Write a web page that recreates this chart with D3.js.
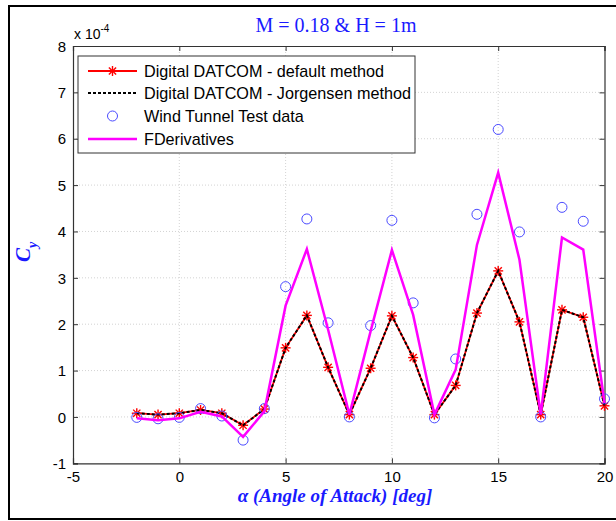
<!DOCTYPE html>
<html><head><meta charset="utf-8">
<script src="https://cdn.jsdelivr.net/npm/d3@7"></script>
<style>html,body{margin:0;padding:0;background:#fff;}svg{display:block;}</style>
</head><body>
<svg id="c" width="616" height="521"></svg>
<script>
const alpha = [-2,-1,0,1,2,3,4,5,6,7,8,9,10,11,12,13,14,15,16,17,18,19,20];
const datcomDefault = [0.08,0.05,0.08,0.15,0.08,-0.18,0.17,1.49,2.19,1.07,0.05,1.05,2.18,1.28,0.05,0.68,2.24,3.15,2.05,0.05,2.31,2.15,0.24];
const datcomJorgensen = [0.08,0.05,0.08,0.15,0.08,-0.18,0.17,1.49,2.19,1.07,0.05,1.05,2.18,1.28,0.05,0.68,2.24,3.15,2.05,0.05,2.31,2.15,0.24];
const windTunnel = [-0.01,-0.04,-0.01,0.18,0.02,-0.5,0.18,2.81,4.27,2.03,0.0,1.97,4.24,2.46,-0.02,1.25,4.37,6.2,3.99,0.0,4.52,4.22,0.39];
const fDerivatives = [-0.03,-0.07,-0.03,0.11,0.01,-0.43,0.12,2.4,3.62,1.88,0.05,1.85,3.6,2.2,0.05,1.02,3.71,5.27,3.39,0.05,3.87,3.61,0.3];
const xTicks = [-5,0,5,10,15,20];
const yTicks = [-1,0,1,2,3,4,5,6,7,8];
const legendLabels = ["Digital DATCOM - default method","Digital DATCOM - Jorgensen method","Wind Tunnel Test data","FDerivatives"];
const titleText = "M = 0.18 & H = 1m";
const xLabelText = "α (Angle of Attack) [deg]";

const svg = d3.select("#c");
const L = 73, R = 604.5, T = 46, B = 463.3;
const x = d3.scaleLinear().domain([-5,20]).range([L,R]);
const y = d3.scaleLinear().domain([-1,8]).range([B,T]);

// outer frame
svg.append("rect").attr("x",9).attr("y",6).attr("width",640).attr("height",513)
  .attr("fill","#fff").attr("stroke","#000").attr("stroke-width",2);

// plot background
svg.append("rect").attr("x",L).attr("y",T).attr("width",R-L).attr("height",B-T).attr("fill","#fff");

// grid
const g = svg.append("g");
g.selectAll(".gx").data(xTicks.slice(1,-1)).join("line")
  .attr("x1",d=>x(d)).attr("x2",d=>x(d)).attr("y1",T).attr("y2",B)
  .attr("stroke","#c8c8c8").attr("stroke-width",0.8).attr("stroke-dasharray","1,2");
g.selectAll(".gy").data(yTicks.slice(1,-1)).join("line")
  .attr("y1",d=>y(d)).attr("y2",d=>y(d)).attr("x1",L).attr("x2",R)
  .attr("stroke","#c8c8c8").attr("stroke-width",0.8).attr("stroke-dasharray","1,2");

// axes
const axFont = "'Liberation Sans', Arial, sans-serif";
const fmt = d => String(d);
const xAxisB = svg.append("g").attr("transform",`translate(0,${B})`)
  .call(d3.axisBottom(x).tickValues(xTicks).tickSize(-5).tickPadding(8).tickFormat(fmt));
const xAxisT = svg.append("g").attr("transform",`translate(0,${T})`)
  .call(d3.axisTop(x).tickValues(xTicks).tickSize(-5).tickFormat(""));
const yAxisL = svg.append("g").attr("transform",`translate(${L},0)`)
  .call(d3.axisLeft(y).tickValues(yTicks).tickSize(-5).tickPadding(7).tickFormat(fmt));
const yAxisR = svg.append("g").attr("transform",`translate(${R},0)`)
  .call(d3.axisRight(y).tickValues(yTicks).tickSize(-5).tickFormat(""));
[xAxisB,xAxisT,yAxisL,yAxisR].forEach(a=>{
  a.select(".domain").attr("stroke","#333").attr("stroke-width",1.2);
  a.selectAll(".tick line").attr("stroke","#333");
  a.selectAll("text").attr("font-family",axFont).attr("font-size",15).attr("fill","#000");
});
yAxisL.selectAll("text").attr("dy","0.35em");

// exponent label
const ex = svg.append("text").attr("x",74).attr("y",39).attr("font-family",axFont).attr("font-size",14).attr("fill","#000");
ex.append("tspan").text("x 10");
ex.append("tspan").attr("font-size",10).attr("dy",-7).text("-4");

// lines
const line = d3.line().x((d,i)=>x(alpha[i])).y(d=>y(d));
const plot = svg.append("g");
plot.append("path").datum(datcomDefault).attr("d",line).attr("fill","none").attr("stroke","#ff0000").attr("stroke-width",1.8);
function star(sel, cx, cy, r){
  const gg = sel.append("g").attr("transform",`translate(${cx},${cy})`);
  const pts = [[0,-r,0,r],[-r,0,r,0],[-r*0.72,-r*0.72,r*0.72,r*0.72],[-r*0.72,r*0.72,r*0.72,-r*0.72]];
  pts.forEach(p=>gg.append("line").attr("x1",p[0]).attr("y1",p[1]).attr("x2",p[2]).attr("y2",p[3]).attr("stroke","#ff0000").attr("stroke-width",1.4));
}
datcomDefault.forEach((v,i)=>star(plot, x(alpha[i]), y(v), 5));
plot.append("path").datum(datcomJorgensen).attr("d",line).attr("fill","none").attr("stroke","#000").attr("stroke-width",2).attr("stroke-dasharray","3,2");
plot.selectAll(".wt").data(windTunnel).join("circle")
  .attr("cx",(d,i)=>x(alpha[i])).attr("cy",d=>y(d)).attr("r",5)
  .attr("fill","none").attr("stroke","#4a4aff").attr("stroke-width",1);
plot.append("path").datum(fDerivatives).attr("d",line).attr("fill","none").attr("stroke","#ff00ff").attr("stroke-width",2.5);

// legend
const lg = svg.append("g");
lg.append("rect").attr("x",78).attr("y",56).attr("width",337).attr("height",97).attr("fill","#fff").attr("stroke","#333").attr("stroke-width",1);
const rows = [71,93,116,139];
const lx1 = 88, lx2 = 137, lxm = 112.5;
lg.append("line").attr("x1",lx1).attr("x2",lx2).attr("y1",rows[0]).attr("y2",rows[0]).attr("stroke","#ff0000").attr("stroke-width",1.8);
star(lg, lxm, rows[0], 5);
lg.append("line").attr("x1",lx1).attr("x2",lx2).attr("y1",rows[1]).attr("y2",rows[1]).attr("stroke","#000").attr("stroke-width",2).attr("stroke-dasharray","3,2");
lg.append("circle").attr("cx",lxm).attr("cy",rows[2]).attr("r",5).attr("fill","none").attr("stroke","#4a4aff").attr("stroke-width",1);
lg.append("line").attr("x1",lx1).attr("x2",lx2).attr("y1",rows[3]).attr("y2",rows[3]).attr("stroke","#ff00ff").attr("stroke-width",2.5);
lg.selectAll(".lt").data(legendLabels).join("text")
  .attr("x",144).attr("y",(d,i)=>rows[i]).attr("dy","0.35em")
  .attr("font-family",axFont).attr("font-size",16.2).attr("fill","#000").text(d=>d);

// title & labels
const serif = "'Liberation Serif', 'Times New Roman', serif";
svg.append("text").attr("x",336).attr("y",32).attr("text-anchor","middle")
  .attr("font-family",serif).attr("font-size",20).attr("fill","#1a1aff").text(titleText);
svg.append("text").attr("x",335).attr("y",502).attr("text-anchor","middle")
  .attr("font-family",serif).attr("font-size",19).attr("font-weight","bold").attr("font-style","italic")
  .attr("fill","#1a1aff").text(xLabelText);
const yl = svg.append("text").attr("transform","translate(30,252) rotate(-90)").attr("text-anchor","middle")
  .attr("font-family",serif).attr("font-size",21).attr("font-weight","bold").attr("font-style","italic").attr("fill","#1a1aff");
yl.append("tspan").text("C");
yl.append("tspan").attr("font-size",14).attr("dy",7).text("y");
</script>
</body></html>
